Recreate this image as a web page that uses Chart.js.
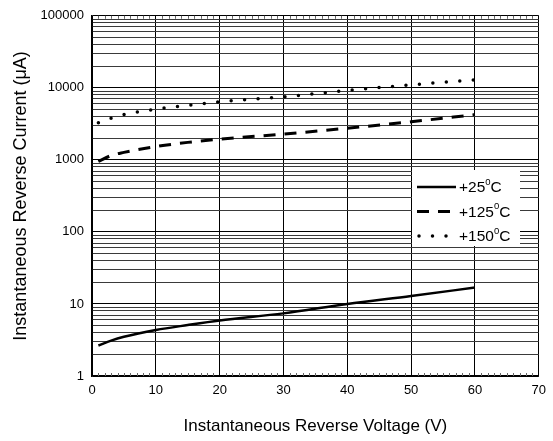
<!DOCTYPE html>
<html>
<head>
<meta charset="UTF-8">
<title>Reverse Current</title>
<script src="https://cdn.jsdelivr.net/npm/chart.js"></script>
<style>
  html, body { margin: 0; padding: 0; background: #fff; }
  #wrap { width: 553px; height: 441px; }
</style>
</head>
<body>
<div id="wrap"><canvas id="c"></canvas></div>
<script>
// values
const voltage = [1, 3, 5, 10, 15, 20, 30, 40, 50, 60];
const current25 = [2.65, 3.1, 3.5, 4.35, 5.1, 5.9, 7.4, 10, 12.9, 16.9];
const current125 = [950, 1150, 1270, 1530, 1750, 1940, 2280, 2750, 3380, 4250];
const current150 = [3270, 3800, 4250, 5050, 5700, 6400, 7500, 9200, 11000, 12900];
const seriesLabels = ['+25°C', '+125°C', '+150°C'];
const xTicks = [0, 10, 20, 30, 40, 50, 60, 70];
const yTickLabels = [1, 10, 100, 1000, 10000, 100000];

function pts(ys) { return voltage.map((v, i) => ({ x: v, y: ys[i] })); }

const FONT = 'Liberation Sans, Arial, sans-serif';

// tiny inward ticks on top and bottom frame
const minorTicks = {
  id: 'minorTicks',
  afterDraw(chart) {
    const { ctx, chartArea: a, scales } = chart;
    ctx.save();
    ctx.strokeStyle = '#666';
    ctx.lineWidth = 1;
    for (let v = 1; v < 70; v++) {
      if (v % 10 === 0) continue;
      const px = Math.round(scales.x.getPixelForValue(v)) + 0.5;
      ctx.beginPath();
      ctx.moveTo(px, a.bottom); ctx.lineTo(px, a.bottom - 3);
      ctx.moveTo(px, a.top); ctx.lineTo(px, a.top + 3);
      ctx.stroke();
    }
    ctx.restore();
  }
};

// legend box inside the plot
const boxLegend = {
  id: 'boxLegend',
  afterDatasetsDraw(chart) {
    const { ctx } = chart;
    const x0 = 412, y0 = 170, w = 108, rowH = 24.5;
    ctx.save();
    ctx.fillStyle = '#fff';
    ctx.fillRect(x0, y0, w, 76);
    chart.data.datasets.forEach((ds, i) => {
      const y = y0 + 17 + i * rowH;
      ctx.strokeStyle = '#000';
      ctx.lineWidth = ds.borderWidth;
      ctx.lineCap = ds.borderCapStyle || 'butt';
      ctx.setLineDash(ds.borderDash || []);
      ctx.lineDashOffset = 0;
      ctx.beginPath();
      ctx.moveTo(x0 + 5 + (ds.borderCapStyle === 'round' ? 2 : 0), y);
      ctx.lineTo(x0 + 44, y);
      ctx.stroke();
      ctx.setLineDash([]);
      const parts = ds.label.split('°');
      ctx.fillStyle = '#000';
      ctx.textBaseline = 'middle';
      ctx.textAlign = 'left';
      let tx = x0 + 47;
      ctx.font = '15.5px ' + FONT;
      ctx.fillText(parts[0], tx, y + 1);
      tx += ctx.measureText(parts[0]).width;
      ctx.font = '9.5px ' + FONT;
      ctx.fillText('0', tx, y - 5);
      tx += ctx.measureText('0').width;
      ctx.font = '15.5px ' + FONT;
      ctx.fillText(parts[1], tx, y + 1);
    });
    ctx.restore();
  }
};

new Chart(document.getElementById('c'), {
  type: 'line',
  data: {
    datasets: [
      { label: seriesLabels[0], data: pts(current25), borderColor: '#000', borderWidth: 2.5,
        pointRadius: 0, cubicInterpolationMode: 'monotone', fill: false },
      { label: seriesLabels[1], data: pts(current125), borderColor: '#000', borderWidth: 3,
        borderDash: [12, 9], pointRadius: 0, cubicInterpolationMode: 'monotone', fill: false },
      { label: seriesLabels[2], data: pts(current150), borderColor: '#000', borderWidth: 3.5,
        borderDash: [0, 13.5], borderCapStyle: 'round', pointRadius: 0,
        cubicInterpolationMode: 'monotone', fill: false }
    ]
  },
  options: {
    responsive: true,
    maintainAspectRatio: false,
    animation: false,
    layout: { padding: { top: 15, right: 12, left: 0, bottom: 0 } },
    plugins: { legend: { display: false }, tooltip: { enabled: false } },
    scales: {
      x: {
        type: 'linear',
        min: 0, max: 70,
        afterBuildTicks: s => { s.ticks = xTicks.map(v => ({ value: v })); },
        afterFit: s => { s.height = 65; },
        grid: { color: '#000', lineWidth: 1, drawTicks: false },
        border: { color: '#000', width: 1.5 },
        ticks: { color: '#000', font: { family: FONT, size: 13 }, padding: 7, maxRotation: 0 },
        title: { display: true, text: 'Instantaneous Reverse Voltage (V)', color: '#000',
                 font: { family: FONT, size: 17 }, padding: { top: 0, bottom: 4 } }
      },
      y: {
        type: 'logarithmic',
        min: 1, max: 100000,
        afterBuildTicks: s => {
          const t = [];
          for (let d = 1; d < 100000; d *= 10) {
            for (let m = 1; m < 10; m++) t.push({ value: m * d, major: m === 1 });
          }
          t.push({ value: 100000, major: true });
          s.ticks = t;
        },
        afterFit: s => { s.width = 92; },
        grid: {
          color: c => (yTickLabels.includes(c.tick && c.tick.value) ? '#000' : '#3a3a3a'),
          lineWidth: 1, drawTicks: false
        },
        border: { color: '#000', width: 1.5 },
        ticks: {
          color: '#000', font: { family: FONT, size: 13 }, padding: 8, autoSkip: false,
          callback: v => (yTickLabels.includes(v) ? String(v) : '')
        },
        title: { display: true, text: 'Instantaneous Reverse Current (μA)', color: '#000',
                 font: { family: FONT, size: 18 }, padding: { top: 10, bottom: 0 } }
      }
    }
  },
  plugins: [minorTicks, boxLegend]
});
</script>
</body>
</html>
